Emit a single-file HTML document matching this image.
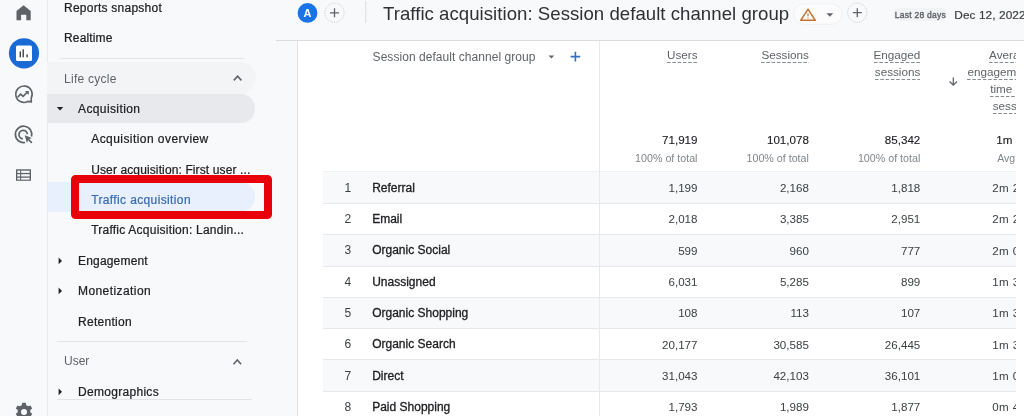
<!DOCTYPE html>
<html><head><meta charset="utf-8"><style>
html,body{margin:0;padding:0;}
body{width:1024px;height:416px;overflow:hidden;position:relative;background:#f8f9fa;font-family:'Liberation Sans', Arial, sans-serif;}
.t{position:absolute;white-space:nowrap;}
</style></head><body>
<div style="position:absolute;left:0px;top:0px;width:47px;height:416px;background:#f8f9fa;"></div>
<div style="position:absolute;left:47px;top:0px;width:1px;height:416px;background:#e8eaed;"></div>
<div style="position:absolute;left:48px;top:0px;width:976px;height:416px;background:#f8f9fa;"></div>
<div style="position:absolute;left:276px;top:40px;width:748px;height:1px;background:#dadce0;"></div>
<div style="position:absolute;left:297px;top:41px;width:727px;height:375px;background:#fff;"></div>
<div style="position:absolute;left:297px;top:40px;width:1px;height:376px;background:#e1e3e6;"></div>
<svg style="position:absolute;left:0;top:0" width="47" height="416" viewBox="0 0 47 416">
<path d="M16.5 20.3V10.9L23.6 5.3L30.7 10.9V20.3H26.3V14.8H21.1V20.3Z" fill="#5f6368"/>
<circle cx="24" cy="53.3" r="15.1" fill="#1a6ad6"/>
<rect x="16" y="45.5" width="16" height="15.6" rx="1.5" fill="#fff"/>
<rect x="19.6" y="51.4" width="1.4" height="5.9" fill="#3c4043"/>
<rect x="22.5" y="49.3" width="1.4" height="8" fill="#3c4043"/>
<rect x="26.4" y="54.4" width="1.4" height="2.9" fill="#3c4043"/>
<path d="M31.24 98.05L31.3 101.8L27.85 101.44A8.2 8.2 0 1 1 31.24 98.05Z" fill="none" stroke="#5f6368" stroke-width="1.6" stroke-linejoin="miter"/><path d="M31.27 99.92L31.3 101.8L29.57 101.62Z" fill="#5f6368"/>
<path d="M17.6 97.3L20.6 94.1L23.1 96.3L27.4 92.1" fill="none" stroke="#5f6368" stroke-width="1.6"/>
<path d="M25 91.1H28.8V94.9Z" fill="#5f6368"/>
<path d="M31.52 136.52A8.2 8.2 0 1 0 25.02 142.48" fill="none" stroke="#5f6368" stroke-width="1.7"/>
<path d="M27.38 134.23A4.2 4.2 0 1 0 22.83 138.78" fill="none" stroke="#5f6368" stroke-width="1.7"/>
<path d="M24.7 135.3L31.9 137.9L29.2 139.1L32.4 142.3L31.3 143.4L28.1 140.2L26.9 142.9Z" fill="#5f6368"/>
<rect x="16" y="169.3" width="15" height="11.5" fill="#5f6368"/>
<rect x="17.35" y="170.7" width="2.75" height="2.2" fill="#f8f9fa"/><rect x="21.15" y="170.7" width="8.5" height="2.2" fill="#f8f9fa"/><rect x="17.35" y="174.2" width="2.75" height="2.25" fill="#f8f9fa"/><rect x="21.15" y="174.2" width="8.5" height="2.25" fill="#f8f9fa"/><rect x="17.35" y="177.75" width="2.75" height="1.9" fill="#f8f9fa"/><rect x="21.15" y="177.75" width="8.5" height="1.9" fill="#f8f9fa"/>
<g transform="translate(24 412) scale(1.08)" fill="#5f6368">
<path d="M-1.6 -8.6h3.2l0.5 2.3a6 6 0 0 1 1.7 1l2.2 -0.8 1.6 2.8 -1.8 1.5a6 6 0 0 1 0 2l1.8 1.5 -1.6 2.8 -2.2 -0.8a6 6 0 0 1 -1.7 1l-0.5 2.3h-3.2l-0.5 -2.3a6 6 0 0 1 -1.7 -1l-2.2 0.8 -1.6 -2.8 1.8 -1.5a6 6 0 0 1 0 -2l-1.8 -1.5 1.6 -2.8 2.2 0.8a6 6 0 0 1 1.7 -1z"/>
<circle r="2.8" fill="#f8f9fa"/>
</g>
</svg>
<div class="t" style="top:1.84px;font-size:12px;line-height:12px;color:#202124;letter-spacing:0.25px;left:64.00px;-webkit-text-stroke:0.22px currentColor;">Reports snapshot</div>
<div class="t" style="top:31.94px;font-size:12px;line-height:12px;color:#202124;letter-spacing:0.15px;left:64.00px;-webkit-text-stroke:0.22px currentColor;">Realtime</div>
<div style="position:absolute;left:59.6px;top:58px;width:184.4px;height:1px;background:#e2e4e7;"></div>
<div style="position:absolute;left:47px;top:62px;width:209px;height:32px;background:#f3f4f6;border-radius:0 16px 16px 0;"></div>
<div class="t" style="top:72.54px;font-size:12px;line-height:12px;color:#5f6368;letter-spacing:0.27px;left:64.00px;">Life cycle</div>
<div style="position:absolute;left:48px;top:94.4px;width:206.8px;height:29px;background:#e8e9ec;border-radius:0 14px 14px 0;"></div>
<div class="t" style="top:102.54px;font-size:12px;line-height:12px;color:#202124;letter-spacing:0.39px;left:78.00px;-webkit-text-stroke:0.22px currentColor;">Acquisition</div>
<div class="t" style="top:133.04px;font-size:12px;line-height:12px;color:#202124;letter-spacing:0.44px;left:91.20px;-webkit-text-stroke:0.22px currentColor;">Acquisition overview</div>
<div class="t" style="top:163.84px;font-size:12px;line-height:12px;color:#202124;letter-spacing:0.12px;left:91.20px;-webkit-text-stroke:0.22px currentColor;">User acquisition: First user ...</div>
<div style="position:absolute;left:48px;top:182px;width:207px;height:30px;background:#e8f0fe;border-radius:0 15px 15px 0;"></div>
<div class="t" style="top:193.54px;font-size:12px;line-height:12px;color:#3a6bb2;letter-spacing:0.37px;left:91.20px;-webkit-text-stroke:0.22px currentColor;">Traffic acquisition</div>
<div class="t" style="top:224.44px;font-size:12px;line-height:12px;color:#202124;letter-spacing:0.23px;left:91.20px;-webkit-text-stroke:0.22px currentColor;">Traffic Acquisition: Landin...</div>
<div class="t" style="top:255.44px;font-size:12px;line-height:12px;color:#202124;letter-spacing:0.18px;left:78.00px;-webkit-text-stroke:0.22px currentColor;">Engagement</div>
<div class="t" style="top:285.44px;font-size:12px;line-height:12px;color:#202124;letter-spacing:0.42px;left:78.00px;-webkit-text-stroke:0.22px currentColor;">Monetization</div>
<div class="t" style="top:315.84px;font-size:12px;line-height:12px;color:#202124;letter-spacing:0.28px;left:78.00px;-webkit-text-stroke:0.22px currentColor;">Retention</div>
<div style="position:absolute;left:57.3px;top:341px;width:190px;height:1px;background:#e2e4e7;"></div>
<div class="t" style="top:355.34px;font-size:12px;line-height:12px;color:#5f6368;left:64.00px;">User</div>
<div class="t" style="top:386.14px;font-size:12px;line-height:12px;color:#202124;letter-spacing:0.3px;left:78.00px;-webkit-text-stroke:0.22px currentColor;">Demographics</div>
<div style="position:absolute;left:57.3px;top:399px;width:195px;height:1px;background:#e2e4e7;"></div>
<svg style="position:absolute;left:0;top:0" width="300" height="416" viewBox="0 0 300 416">
<path d="M56.8 107H63.3L60.05 110.6Z" fill="#202124"/>
<path d="M58.6 257.5V264.3L62 260.9Z" fill="#202124"/>
<path d="M58.6 287.5V294.3L62 290.9Z" fill="#202124"/>
<path d="M58.6 388.4V395.2L62 391.8Z" fill="#202124"/>
<path d="M233.8 80.4L237.6 76.2L241.4 80.4" fill="none" stroke="#5f6368" stroke-width="1.6"/>
<path d="M233.5 364.2L237.3 360L241.1 364.2" fill="none" stroke="#5f6368" stroke-width="1.6"/>
</svg>
<div style="position:absolute;left:70.6px;top:175.4px;width:201.2px;height:43.8px;box-sizing:border-box;border:8px solid #e8000b;border-radius:4.5px;"></div>
<svg style="position:absolute;left:280px;top:0" width="600" height="40" viewBox="280 0 600 40">
<circle cx="307.5" cy="12.9" r="9.9" fill="#1a73e8"/>
<circle cx="334.5" cy="12.8" r="9.6" fill="none" stroke="#bdc1c6" stroke-width="0.8" stroke-dasharray="1.2 1.2"/>
<path d="M330 12.8H339M334.5 8.3V17.3" stroke="#5f6368" stroke-width="1.3"/>
<rect x="365.3" y="1" width="1" height="22" fill="#dadce0"/>
<rect x="793.9" y="3.9" width="48.2" height="20.4" rx="10.2" fill="#fcfcfd" stroke="#eceef0" stroke-width="0.8"/>
<path d="M808 9.2L815.3 20.3H800.7Z" fill="none" stroke="#c46f2a" stroke-width="1.5" stroke-linejoin="round"/>
<path d="M808 13.2V16.2M808 17.4V18.6" stroke="#c46f2a" stroke-width="1.1"/>
<path d="M826.5 13.3H833.2L829.85 16.7Z" fill="#5f6368"/>
<circle cx="857.3" cy="12.7" r="9.6" fill="none" stroke="#bdc1c6" stroke-width="0.8" stroke-dasharray="1.2 1.2"/>
<path d="M852.8 12.7H861.8M857.3 8.2V17.2" stroke="#5f6368" stroke-width="1.3"/>
</svg>
<div class="t" style="top:7.69px;font-size:11px;line-height:11px;color:#fff;font-weight:700;left:303.60px;">A</div>
<div class="t" style="top:5.16px;font-size:18.6px;line-height:18.6px;color:#303134;letter-spacing:0.04px;left:383.00px;">Traffic acquisition: Session default channel group</div>
<div style="position:absolute;left:892.6px;top:8.4px;width:54.2px;height:12.6px;background:#f1f3f4;border-radius:6px;"></div>
<div class="t" style="top:10.80px;font-size:8.5px;line-height:8.5px;color:#5f6368;letter-spacing:0.25px;left:894.80px;-webkit-text-stroke:0.35px #5f6368;">Last 28 days</div>
<div class="t" style="top:9.61px;font-size:11.8px;line-height:11.8px;color:#3c4043;letter-spacing:0.1px;left:954.30px;-webkit-text-stroke:0.2px #3c4043;">Dec 12, 2022</div>
<div style="position:absolute;left:298px;top:41px;width:718px;height:375px;overflow:hidden;">
<div style="position:absolute;left:25.40px;top:130.00px;width:692.6px;height:32px;background:#f8f9fa;"></div>
<div style="position:absolute;left:25.40px;top:130.00px;width:692.6px;height:1px;background:#eff0f2;"></div>
<div class="t" style="top:140.84px;font-size:12px;line-height:12px;color:#3c4043;left:-146.80px;width:200px;text-align:right;">1</div>
<div class="t" style="top:140.84px;font-size:12px;line-height:12px;color:#202124;left:74.20px;-webkit-text-stroke:0.3px #202124;">Referral</div>
<div class="t" style="top:141.18px;font-size:11.6px;line-height:11.6px;color:#3c4043;left:199.50px;width:200px;text-align:right;">1,199</div>
<div class="t" style="top:141.18px;font-size:11.6px;line-height:11.6px;color:#3c4043;left:310.90px;width:200px;text-align:right;">2,168</div>
<div class="t" style="top:141.18px;font-size:11.6px;line-height:11.6px;color:#3c4043;left:422.30px;width:200px;text-align:right;">1,818</div>
<div class="t" style="top:141.18px;font-size:11.6px;line-height:11.6px;color:#3c4043;letter-spacing:0.35px;left:694.30px;">2m 23s</div>
<div style="position:absolute;left:25.40px;top:162.00px;width:692.6px;height:1px;background:#e6e8eb;"></div>
<div class="t" style="top:172.13px;font-size:12px;line-height:12px;color:#3c4043;left:-146.80px;width:200px;text-align:right;">2</div>
<div class="t" style="top:172.13px;font-size:12px;line-height:12px;color:#202124;left:74.20px;-webkit-text-stroke:0.3px #202124;">Email</div>
<div class="t" style="top:172.47px;font-size:11.6px;line-height:11.6px;color:#3c4043;left:199.50px;width:200px;text-align:right;">2,018</div>
<div class="t" style="top:172.47px;font-size:11.6px;line-height:11.6px;color:#3c4043;left:310.90px;width:200px;text-align:right;">3,385</div>
<div class="t" style="top:172.47px;font-size:11.6px;line-height:11.6px;color:#3c4043;left:422.30px;width:200px;text-align:right;">2,951</div>
<div class="t" style="top:172.47px;font-size:11.6px;line-height:11.6px;color:#3c4043;letter-spacing:0.35px;left:694.30px;">2m 21s</div>
<div style="position:absolute;left:25.40px;top:193.00px;width:692.6px;height:32px;background:#f8f9fa;"></div>
<div style="position:absolute;left:25.40px;top:193.00px;width:692.6px;height:1px;background:#e6e8eb;"></div>
<div class="t" style="top:203.42px;font-size:12px;line-height:12px;color:#3c4043;left:-146.80px;width:200px;text-align:right;">3</div>
<div class="t" style="top:203.42px;font-size:12px;line-height:12px;color:#202124;left:74.20px;-webkit-text-stroke:0.3px #202124;">Organic Social</div>
<div class="t" style="top:203.76px;font-size:11.6px;line-height:11.6px;color:#3c4043;left:199.50px;width:200px;text-align:right;">599</div>
<div class="t" style="top:203.76px;font-size:11.6px;line-height:11.6px;color:#3c4043;left:310.90px;width:200px;text-align:right;">960</div>
<div class="t" style="top:203.76px;font-size:11.6px;line-height:11.6px;color:#3c4043;left:422.30px;width:200px;text-align:right;">777</div>
<div class="t" style="top:203.76px;font-size:11.6px;line-height:11.6px;color:#3c4043;letter-spacing:0.35px;left:694.30px;">2m 05s</div>
<div style="position:absolute;left:25.40px;top:225.00px;width:692.6px;height:1px;background:#e6e8eb;"></div>
<div class="t" style="top:234.71px;font-size:12px;line-height:12px;color:#3c4043;left:-146.80px;width:200px;text-align:right;">4</div>
<div class="t" style="top:234.71px;font-size:12px;line-height:12px;color:#202124;left:74.20px;-webkit-text-stroke:0.3px #202124;">Unassigned</div>
<div class="t" style="top:235.05px;font-size:11.6px;line-height:11.6px;color:#3c4043;left:199.50px;width:200px;text-align:right;">6,031</div>
<div class="t" style="top:235.05px;font-size:11.6px;line-height:11.6px;color:#3c4043;left:310.90px;width:200px;text-align:right;">5,285</div>
<div class="t" style="top:235.05px;font-size:11.6px;line-height:11.6px;color:#3c4043;left:422.30px;width:200px;text-align:right;">899</div>
<div class="t" style="top:235.05px;font-size:11.6px;line-height:11.6px;color:#3c4043;letter-spacing:0.35px;left:694.30px;">1m 37s</div>
<div style="position:absolute;left:25.40px;top:256.00px;width:692.6px;height:31px;background:#f8f9fa;"></div>
<div style="position:absolute;left:25.40px;top:256.00px;width:692.6px;height:1px;background:#e6e8eb;"></div>
<div class="t" style="top:266.00px;font-size:12px;line-height:12px;color:#3c4043;left:-146.80px;width:200px;text-align:right;">5</div>
<div class="t" style="top:266.00px;font-size:12px;line-height:12px;color:#202124;left:74.20px;-webkit-text-stroke:0.3px #202124;">Organic Shopping</div>
<div class="t" style="top:266.34px;font-size:11.6px;line-height:11.6px;color:#3c4043;left:199.50px;width:200px;text-align:right;">108</div>
<div class="t" style="top:266.34px;font-size:11.6px;line-height:11.6px;color:#3c4043;left:310.90px;width:200px;text-align:right;">113</div>
<div class="t" style="top:266.34px;font-size:11.6px;line-height:11.6px;color:#3c4043;left:422.30px;width:200px;text-align:right;">107</div>
<div class="t" style="top:266.34px;font-size:11.6px;line-height:11.6px;color:#3c4043;letter-spacing:0.35px;left:694.30px;">1m 33s</div>
<div style="position:absolute;left:25.40px;top:287.00px;width:692.6px;height:1px;background:#e6e8eb;"></div>
<div class="t" style="top:297.29px;font-size:12px;line-height:12px;color:#3c4043;left:-146.80px;width:200px;text-align:right;">6</div>
<div class="t" style="top:297.29px;font-size:12px;line-height:12px;color:#202124;left:74.20px;-webkit-text-stroke:0.3px #202124;">Organic Search</div>
<div class="t" style="top:297.63px;font-size:11.6px;line-height:11.6px;color:#3c4043;left:199.50px;width:200px;text-align:right;">20,177</div>
<div class="t" style="top:297.63px;font-size:11.6px;line-height:11.6px;color:#3c4043;left:310.90px;width:200px;text-align:right;">30,585</div>
<div class="t" style="top:297.63px;font-size:11.6px;line-height:11.6px;color:#3c4043;left:422.30px;width:200px;text-align:right;">26,445</div>
<div class="t" style="top:297.63px;font-size:11.6px;line-height:11.6px;color:#3c4043;letter-spacing:0.35px;left:694.30px;">1m 39s</div>
<div style="position:absolute;left:25.40px;top:318.00px;width:692.6px;height:32px;background:#f8f9fa;"></div>
<div style="position:absolute;left:25.40px;top:318.00px;width:692.6px;height:1px;background:#e6e8eb;"></div>
<div class="t" style="top:328.58px;font-size:12px;line-height:12px;color:#3c4043;left:-146.80px;width:200px;text-align:right;">7</div>
<div class="t" style="top:328.58px;font-size:12px;line-height:12px;color:#202124;left:74.20px;-webkit-text-stroke:0.3px #202124;">Direct</div>
<div class="t" style="top:328.92px;font-size:11.6px;line-height:11.6px;color:#3c4043;left:199.50px;width:200px;text-align:right;">31,043</div>
<div class="t" style="top:328.92px;font-size:11.6px;line-height:11.6px;color:#3c4043;left:310.90px;width:200px;text-align:right;">42,103</div>
<div class="t" style="top:328.92px;font-size:11.6px;line-height:11.6px;color:#3c4043;left:422.30px;width:200px;text-align:right;">36,101</div>
<div class="t" style="top:328.92px;font-size:11.6px;line-height:11.6px;color:#3c4043;letter-spacing:0.35px;left:694.30px;">1m 06s</div>
<div style="position:absolute;left:25.40px;top:350.00px;width:692.6px;height:1px;background:#e6e8eb;"></div>
<div class="t" style="top:359.87px;font-size:12px;line-height:12px;color:#3c4043;left:-146.80px;width:200px;text-align:right;">8</div>
<div class="t" style="top:359.87px;font-size:12px;line-height:12px;color:#202124;left:74.20px;-webkit-text-stroke:0.3px #202124;">Paid Shopping</div>
<div class="t" style="top:360.21px;font-size:11.6px;line-height:11.6px;color:#3c4043;left:199.50px;width:200px;text-align:right;">1,793</div>
<div class="t" style="top:360.21px;font-size:11.6px;line-height:11.6px;color:#3c4043;left:310.90px;width:200px;text-align:right;">1,989</div>
<div class="t" style="top:360.21px;font-size:11.6px;line-height:11.6px;color:#3c4043;left:422.30px;width:200px;text-align:right;">1,877</div>
<div class="t" style="top:360.21px;font-size:11.6px;line-height:11.6px;color:#3c4043;letter-spacing:0.35px;left:694.30px;">0m 45s</div>
<div style="position:absolute;left:301.00px;top:0.00px;width:1px;height:375px;background:#e8e9ec;"></div>
<div class="t" style="top:10.04px;font-size:12px;line-height:12px;color:#5f6368;letter-spacing:0.05px;left:74.60px;">Session default channel group</div>
<svg style="position:absolute;left:0;top:0" width="718" height="375" viewBox="298 41 718 375"><path d="M548.6 55.6H554.2L551.4 58.6Z" fill="#5f6368"/><path d="M570.6 56.6H580.2M575.4 51.8V61.4" stroke="#2f6fc6" stroke-width="1.6"/><path d="M953.3 77.6V85.2M949.6 81.5L953.3 85.2L957 81.5" fill="none" stroke="#5f6368" stroke-width="1.3"/></svg>
<div class="t" style="top:8.40px;font-size:11.7px;line-height:11.7px;color:#5f6368;left:199.50px;width:200px;text-align:right;"><span style="padding-bottom:2px;background-image:linear-gradient(90deg,#878c91 60%,transparent 60%);background-size:5.3px 1px;background-repeat:repeat-x;background-position:0 100%;">Users</span></div>
<div class="t" style="top:8.40px;font-size:11.7px;line-height:11.7px;color:#5f6368;left:310.90px;width:200px;text-align:right;"><span style="padding-bottom:2px;background-image:linear-gradient(90deg,#878c91 60%,transparent 60%);background-size:5.3px 1px;background-repeat:repeat-x;background-position:0 100%;">Sessions</span></div>
<div class="t" style="top:8.40px;font-size:11.7px;line-height:11.7px;color:#5f6368;left:422.30px;width:200px;text-align:right;"><span style="padding-bottom:2px;background-image:linear-gradient(90deg,#878c91 60%,transparent 60%);background-size:5.3px 1px;background-repeat:repeat-x;background-position:0 100%;">Engaged</span></div>
<div class="t" style="top:25.15px;font-size:11.7px;line-height:11.7px;color:#5f6368;left:422.30px;width:200px;text-align:right;"><span style="padding-bottom:2px;background-image:linear-gradient(90deg,#878c91 60%,transparent 60%);background-size:5.3px 1px;background-repeat:repeat-x;background-position:0 100%;">sessions</span></div>
<div class="t" style="top:8.40px;font-size:11.7px;line-height:11.7px;color:#5f6368;left:534.40px;width:200px;text-align:right;"><span style="padding-bottom:2px;background-image:linear-gradient(90deg,#878c91 60%,transparent 60%);background-size:5.3px 1px;background-repeat:repeat-x;background-position:0 100%;">Average</span></div>
<div class="t" style="top:25.15px;font-size:11.7px;line-height:11.7px;color:#5f6368;left:534.40px;width:200px;text-align:right;"><span style="padding-bottom:2px;background-image:linear-gradient(90deg,#878c91 60%,transparent 60%);background-size:5.3px 1px;background-repeat:repeat-x;background-position:0 100%;">engagement</span></div>
<div class="t" style="top:41.90px;font-size:11.7px;line-height:11.7px;color:#5f6368;left:534.40px;width:200px;text-align:right;"><span style="padding-bottom:2px;background-image:linear-gradient(90deg,#878c91 60%,transparent 60%);background-size:5.3px 1px;background-repeat:repeat-x;background-position:0 100%;">time per</span></div>
<div class="t" style="top:58.65px;font-size:11.7px;line-height:11.7px;color:#5f6368;left:534.40px;width:200px;text-align:right;"><span style="padding-bottom:2px;background-image:linear-gradient(90deg,#878c91 60%,transparent 60%);background-size:5.3px 1px;background-repeat:repeat-x;background-position:0 100%;">session</span></div>
<div class="t" style="top:92.68px;font-size:11.6px;line-height:11.6px;color:#202124;left:199.50px;width:200px;text-align:right;-webkit-text-stroke:0.12px #202124;">71,919</div>
<div class="t" style="top:112.04px;font-size:10.7px;line-height:10.7px;color:#80868b;left:199.50px;width:200px;text-align:right;">100% of total</div>
<div class="t" style="top:92.68px;font-size:11.6px;line-height:11.6px;color:#202124;left:310.90px;width:200px;text-align:right;-webkit-text-stroke:0.12px #202124;">101,078</div>
<div class="t" style="top:112.04px;font-size:10.7px;line-height:10.7px;color:#80868b;left:310.90px;width:200px;text-align:right;">100% of total</div>
<div class="t" style="top:92.68px;font-size:11.6px;line-height:11.6px;color:#202124;left:422.30px;width:200px;text-align:right;-webkit-text-stroke:0.12px #202124;">85,342</div>
<div class="t" style="top:112.04px;font-size:10.7px;line-height:10.7px;color:#80868b;left:422.30px;width:200px;text-align:right;">100% of total</div>
<div class="t" style="top:92.68px;font-size:11.6px;line-height:11.6px;color:#202124;left:698.30px;-webkit-text-stroke:0.12px #202124;">1m</div>
<div class="t" style="top:112.21px;font-size:10.5px;line-height:10.5px;color:#80868b;left:699.30px;">Avg 0%</div>
</div>
</body></html>
